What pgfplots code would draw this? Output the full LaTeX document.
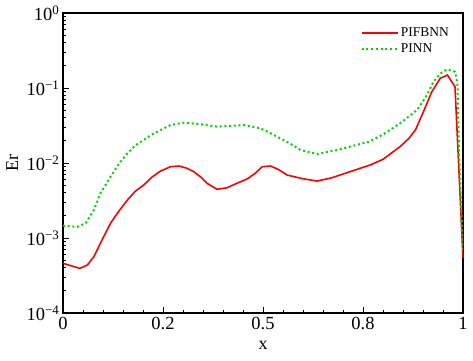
\documentclass[border=0pt]{standalone}
\usepackage{fontspec}
\setmainfont{Liberation Serif}
\usepackage{pgfplots}
\pgfplotsset{compat=1.18}
\definecolor{lred}{RGB}{255,0,0}
\definecolor{lgreen}{RGB}{0,215,0}
\begin{document}
\begin{tikzpicture}
\begin{axis}[
  name=ax,
  scale only axis,
  width=400pt, height=300pt,
  xmin=0, xmax=1,
  ymode=log, ymin=1e-4, ymax=1,
  xtick={0,0.25,0.5,0.75,1},
  xticklabels={0,0.2,0.5,0.8,1},
  minor x tick num=4,
  ytick={1e-4,1e-3,1e-2,1e-1,1},
  yticklabels={10\textsuperscript{−4},10\textsuperscript{−3},10\textsuperscript{−2},10\textsuperscript{−1},10\textsuperscript{0}},
  xtick pos=bottom, ytick pos=left,
  tick align=inside,
  major tick length=6pt, minor tick length=3pt,
  tick style={black, line width=1pt},
  axis line style={black, line width=1.5pt},
  tick label style={font=\fontsize{18.5}{20}\selectfont},
  xticklabel style={yshift=-1pt},
  yticklabel style={xshift=0pt},
  xlabel={x}, ylabel={Er},
  label style={font=\fontsize{18}{20}\selectfont},
  xlabel style={at={(axis description cs:0.5,-0.107)}, anchor=center},
  ylabel style={at={(axis description cs:-0.127,0.5)}, anchor=center},
  legend cell align=left,
  legend style={draw=none, fill=none, at={(axis cs:0.97,0.68)}, anchor=north east,
    font=\fontsize{13.5}{16}\selectfont, row sep=1.5pt, inner sep=0pt},
  legend image code/.code={\draw[#1] (0pt,0pt) -- (36pt,0pt);},
]
\addplot[lred, line width=1.6pt] coordinates {
(0.000,4.60e-4) (0.020,4.27e-4) (0.042,3.94e-4) (0.061,4.37e-4) (0.077,5.62e-4)
(0.100,1.00e-3) (0.119,1.58e-3) (0.140,2.29e-3) (0.161,3.21e-3) (0.180,4.17e-3)
(0.202,5.09e-3) (0.222,6.46e-3) (0.244,7.82e-3) (0.269,8.93e-3) (0.290,9.12e-3)
(0.310,8.51e-3) (0.327,7.66e-3) (0.345,6.46e-3) (0.360,5.37e-3) (0.385,4.46e-3)
(0.410,4.68e-3) (0.435,5.37e-3) (0.460,6.12e-3) (0.480,7.24e-3) (0.498,8.93e-3)
(0.519,9.12e-3) (0.540,8.13e-3) (0.560,6.92e-3) (0.600,6.17e-3) (0.635,5.75e-3)
(0.670,6.31e-3) (0.700,7.13e-3) (0.743,8.51e-3) (0.768,9.40e-3) (0.800,1.12e-2)
(0.843,1.66e-2) (0.865,2.14e-2) (0.881,2.75e-2) (0.900,4.68e-2) (0.922,8.91e-2)
(0.943,0.1346) (0.961,0.149) (0.980,0.104) (1.000,5.4e-4)
};
\addlegendentry{PIFBNN}
\addplot[lgreen, line width=2pt, dash pattern=on 2pt off 2.7pt] coordinates {
(0.000,1.46e-3) (0.020,1.43e-3) (0.036,1.41e-3) (0.057,1.58e-3) (0.077,2.36e-3)
(0.094,3.98e-3) (0.119,6.61e-3) (0.140,9.77e-3) (0.161,1.35e-2) (0.180,1.70e-2)
(0.202,2.03e-2) (0.222,2.40e-2) (0.244,2.75e-2) (0.269,3.21e-2) (0.302,3.45e-2)
(0.340,3.31e-2) (0.385,3.05e-2) (0.420,3.13e-2) (0.452,3.21e-2) (0.494,2.90e-2)
(0.519,2.49e-2) (0.560,1.92e-2) (0.594,1.49e-2) (0.635,1.32e-2) (0.685,1.49e-2)
(0.764,1.92e-2) (0.800,2.40e-2) (0.843,3.39e-2) (0.885,5.09e-2) (0.910,8.07e-2)
(0.926,0.121) (0.945,0.158) (0.960,0.177) (0.980,0.165) (0.986,0.115)
(0.990,1.48e-2) (1.000,6.3e-4)
};
\addlegendentry{PINN}
\end{axis}
\pgfresetboundingbox
\path (ax.south west) ++(-63pt,-47pt) rectangle ++(473pt,360pt);
\end{tikzpicture}
\end{document}
